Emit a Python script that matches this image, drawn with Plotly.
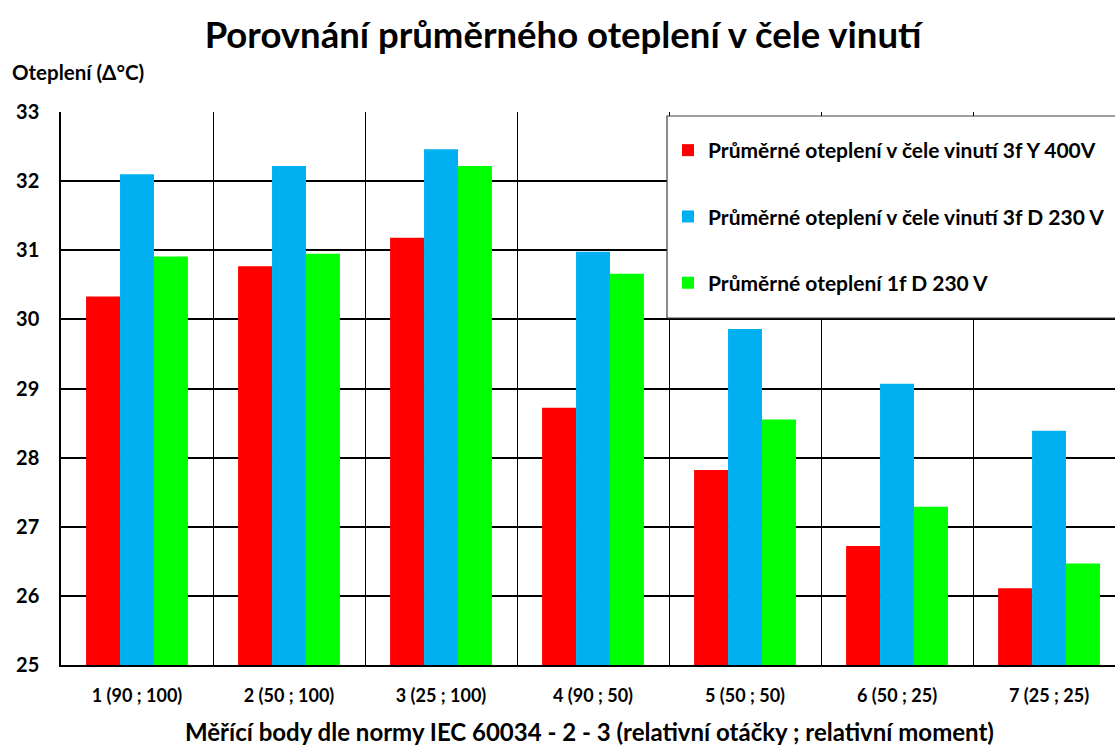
import plotly.graph_objects as go

# Measuring points (relative speed ; relative torque)
categories = ["1 (90 ; 100)", "2 (50 ; 100)", "3 (25 ; 100)", "4 (90 ; 50)",
              "5 (50 ; 50)", "6 (50 ; 25)", "7 (25 ; 25)"]

# Average temperature rise in the winding end (Δ°C)
rise_3f_y_400 = [30.33, 30.77, 31.18, 28.72, 27.82, 26.72, 26.11]
rise_3f_d_230 = [32.10, 32.22, 32.46, 30.98, 29.86, 29.07, 28.39]
rise_1f_d_230 = [30.91, 30.95, 32.22, 30.66, 28.55, 27.29, 26.47]

series_names = [
    "Průměrné oteplení v čele vinutí 3f Y 400V",
    "Průměrné oteplení v čele vinutí 3f D 230 V",
    "Průměrné oteplení 1f D 230 V",
]
series_values = [rise_3f_y_400, rise_3f_d_230, rise_1f_d_230]
series_colors = ["#FF0000", "#00B0F0", "#00FF00"]

y_ticks = [25, 26, 27, 28, 29, 30, 31, 32, 33]

FONT = "Lato"
W, H = 1115, 749
ML, MT, MB = 61, 112, 84
PW, PH = W - ML, H - MT - MB


def px_x(x):
    return (x - ML) / PW


def px_y(y):
    return (H - MB - y) / PH


fig = go.Figure()
for i, (name, vals, col) in enumerate(zip(series_names, series_values, series_colors)):
    fig.add_trace(go.Bar(
        x=categories, y=vals, name=name,
        marker=dict(color=col, line=dict(width=0)),
        legendgroup=f"g{i}",
    ))

fig.update_layout(
    width=W, height=H,
    margin=dict(l=ML, r=0, t=MT, b=MB),
    paper_bgcolor="white", plot_bgcolor="white",
    barmode="group", bargap=0.33, bargroupgap=0,
    font=dict(family=FONT, color="black"),
    title=dict(
        text="<b>Porovnání průměrného oteplení v čele vinutí</b>",
        x=0.505, xanchor="center", y=0.953, yanchor="middle",
        font=dict(size=36.5, family=FONT, color="black"),
    ),
    legend=dict(
        x=px_x(668), xanchor="left",
        y=px_y(130), yanchor="top",
        bgcolor="rgba(0,0,0,0)", borderwidth=0,
        font=dict(size=21, family=FONT, color="black", weight="bold"),
        tracegroupgap=36,
        itemwidth=30,
    ),
    showlegend=True,
)

# Legend frame
fig.add_shape(
    type="rect", xref="paper", yref="paper",
    x0=px_x(667), x1=px_x(1125), y0=px_y(318), y1=px_y(116),
    fillcolor="white", line=dict(color="#404040", width=1.2),
    layer="above",
)

fig.update_xaxes(
    type="category",
    range=[-0.5, 6.434],
    tickson="boundaries",
    showgrid=True, gridcolor="black", gridwidth=1.3,
    showline=True, linecolor="black", linewidth=1.5,
    ticks="", ticklabelstandoff=14,
    tickfont=dict(size=18, family=FONT, color="black", weight="bold"),
)
fig.update_yaxes(
    range=[25, 33],
    tickvals=y_ticks,
    showgrid=True, gridcolor="black", gridwidth=1.5,
    showline=True, linecolor="black", linewidth=1.5,
    ticks="", ticklabelstandoff=16,
    tickfont=dict(size=20, family=FONT, color="black", weight="bold"),
    zeroline=False,
)

fig.add_annotation(
    text="<b>Oteplení (Δ°C)</b>", xref="paper", yref="paper",
    x=px_x(10), xanchor="left",
    y=px_y(72), yanchor="middle",
    showarrow=False, font=dict(size=20.5, family=FONT, color="black"),
)
fig.add_annotation(
    text="<b>Měřící body dle normy IEC 60034 - 2 - 3 (relativní otáčky ; relativní moment)</b>",
    xref="paper", yref="paper",
    x=px_x(589), xanchor="center",
    y=px_y(732), yanchor="middle",
    showarrow=False, font=dict(size=24, family=FONT, color="black"),
)

fig.write_html("out.html")
